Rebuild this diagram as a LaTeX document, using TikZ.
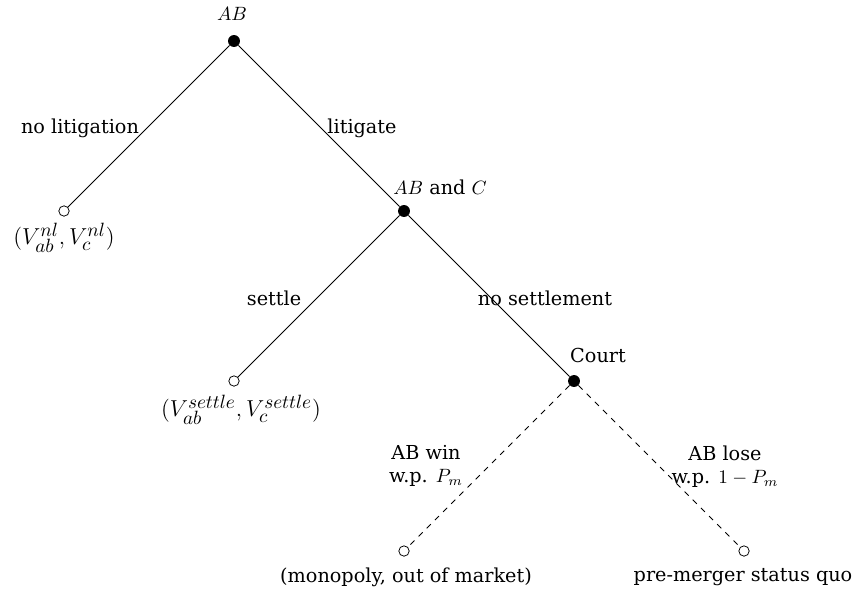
\documentclass[tikz,border=0pt]{standalone}
\usepackage{fontspec}
\setmainfont{DejaVu Serif}
\DeclareMathSizes{12}{12}{10.3}{7}
\tikzset{
  decision/.style={circle, fill=black, inner sep=0pt, minimum size=6.2pt},
  outcome/.style={circle, draw=black, fill=white, inner sep=0pt, minimum size=5.4pt},
  move/.style={black, thin},
  chance/.style={black, thin, dashed},
  tag/.style={inner sep=1pt, align=center},
  payoff/.style={tag, font=\large},
}
\begin{document}
\begin{tikzpicture}[x=0.52pt, y=-0.52pt]
\useasboundingbox (0,0) rectangle (854,593);
% players
\node[decision] (ab) at (234,41) {};
\node[decision] (abc) at (404,211) {};
\node[decision] (court) at (574,381) {};
% terminal histories
\node[outcome] (nl) at (64,211) {};
\node[outcome] (st) at (234,381) {};
\node[outcome] (win) at (404,551) {};
\node[outcome] (lose) at (744,551) {};
% who moves
\node[tag] (abname) at (232,14) {$AB$};
\node[tag] (abcname) at (440,187) {$AB$ and $C$};
\node[tag] (courtname) at (598,355) {Court};
% payoffs
\node[payoff] (nlpay) at (64,238) {$(V_{ab}^{nl},V_{c}^{nl})$};
\node[payoff] (stpay) at (241,410) {$(V_{ab}^{settle},V_{c}^{settle})$};
\node[tag] (winpay) at (406,577) {(monopoly, out of market)};
\node[tag] (losepay) at (743,577) {pre-merger status quo};
% actions
\draw[move] (ab) -- (nl);
\draw[move] (ab) -- (abc);
\draw[move] (abc) -- (st);
\draw[move] (abc) -- (court);
\draw[chance] (court) -- (win);
\draw[chance] (court) -- (lose);
\node[tag] (nllab) at (80,128) {no litigation};
\node[tag] (litlab) at (362,128) {litigate};
\node[tag] (stlab) at (274,298) {settle};
\node[tag] (nslab) at (545,298) {no settlement};
\node[tag] (winlab) at (426,466) {AB win\\w.p. $P_m$};
\node[tag] (loselab) at (725,467) {AB lose\\w.p. $1-P_m$};
\end{tikzpicture}
\end{document}
